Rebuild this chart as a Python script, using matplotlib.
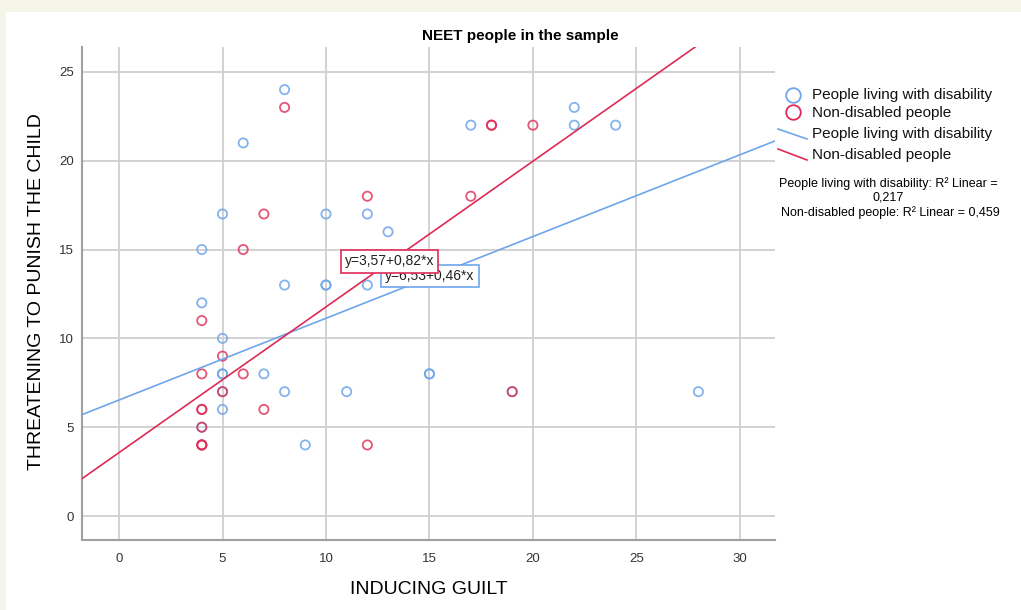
import matplotlib
matplotlib.use("Agg")
import matplotlib.pyplot as plt
import numpy as np
from matplotlib.lines import Line2D
from matplotlib.patches import Rectangle

plt.rcParams['font.family'] = ['Liberation Sans', 'DejaVu Sans']

# ---- data ----
title = "NEET people in the sample"
x_label = "INDUCING GUILT"
y_label = "THREATENING TO PUNISH THE CHILD"
series_names = ["People living with disability", "Non-disabled people"]

disab_x = [8, 6, 5, 10, 12, 13, 4, 8, 10, 10, 12, 4, 5, 5, 5, 7, 15, 15, 8, 11, 5, 5, 4, 9, 17, 22, 22, 24, 19, 28]
disab_y = [24, 21, 17, 17, 17, 16, 15, 13, 13, 13, 13, 12, 10, 8, 8, 8, 8, 8, 7, 7, 7, 6, 5, 4, 22, 23, 22, 22, 7, 7]

nondis_x = [8, 7, 12, 6, 4, 5, 4, 6, 5, 4, 4, 7, 4, 4, 4, 4, 12, 18, 18, 20, 17, 19]
nondis_y = [23, 17, 18, 15, 11, 9, 8, 8, 7, 6, 6, 6, 5, 4, 4, 4, 4, 22, 22, 22, 18, 7]

intercepts = [6.53, 3.57]
slopes = [0.46, 0.82]
eq_labels = ["y=6,53+0,46*x", "y=3,57+0,82*x"]
r2_values = ["0,217", "0,459"]

x_ticks = [0, 5, 10, 15, 20, 25, 30]
y_ticks = [0, 5, 10, 15, 20, 25]

BLUE = "#6ea6ea"
RED = "#de2b56"

fig = plt.figure(figsize=(10.21, 6.10), dpi=100)
fig.patch.set_facecolor("white")
# cream frame (top and left bands)
fig.patches.append(Rectangle((0, 1 - 12 / 610), 1, 12 / 610, transform=fig.transFigure,
                             facecolor="#f4f4e9", edgecolor="none", zorder=0))
fig.patches.append(Rectangle((0, 0), 6 / 1021, 1, transform=fig.transFigure,
                             facecolor="#f4f4e9", edgecolor="none", zorder=0))

ax = fig.add_axes([82 / 1021, 1 - 540 / 610, (775 - 82) / 1021, (540 - 47) / 610])
ax.set_facecolor("white")
xlim = (-1.79, 31.7)
ylim = (-1.35, 26.4)
ax.set_xlim(*xlim)
ax.set_ylim(*ylim)
ax.set_xticks(x_ticks)
ax.set_yticks(y_ticks)
ax.grid(True, color="#cfcfcf", linewidth=1.3)
ax.set_axisbelow(True)
for s in ["top", "right"]:
    ax.spines[s].set_visible(False)
for s in ["left", "bottom"]:
    ax.spines[s].set_color("#a0a0a0")
    ax.spines[s].set_linewidth(1.5)
ax.tick_params(length=0, labelsize=9.5, labelcolor="#333333", pad=6)
ax.tick_params(axis='x', pad=9)

# points
ax.scatter(disab_x, disab_y, s=44, facecolors="none", edgecolors=BLUE, linewidths=1.3,
           alpha=0.85, zorder=3)
ax.scatter(nondis_x, nondis_y, s=44, facecolors="none", edgecolors=RED, linewidths=1.3,
           alpha=0.8, zorder=3)

# fit lines
xx = np.array(xlim)
ax.plot(xx, intercepts[0] + slopes[0] * xx, color=BLUE, lw=1.2, zorder=4)
ax.plot(xx, intercepts[1] + slopes[1] * xx, color=RED, lw=1.2, zorder=4)

# equation boxes
ax.text(15.02, 13.5, eq_labels[0], fontsize=10, ha="center", va="center", color="#222222",
        bbox=dict(boxstyle="square,pad=0.3", facecolor="white", edgecolor=BLUE, linewidth=1.2),
        zorder=5)
ax.text(13.07, 14.33, eq_labels[1], fontsize=10, ha="center", va="center", color="#222222",
        bbox=dict(boxstyle="square,pad=0.3", facecolor="white", edgecolor=RED, linewidth=1.2),
        zorder=6)

# titles and labels
fig.text(520 / 1021, 1 - 36 / 610, title, fontsize=11, fontweight="bold", ha="center", va="center")
fig.text(429 / 1021, 1 - 589 / 610, x_label, fontsize=14, ha="center", va="center")
fig.text(37 / 1021, 1 - 292 / 610, y_label, fontsize=14, ha="center", va="center", rotation=90)

# legend (manual)
def fx(px):
    return px / 1021

def fy(py):
    return 1 - py / 610

fig.add_artist(Line2D([fx(793)], [fy(95)], marker="o", markersize=10.5, markerfacecolor="none",
                      markeredgecolor=BLUE, markeredgewidth=1.3, linestyle="none"))
fig.add_artist(Line2D([fx(793)], [fy(112)], marker="o", markersize=10.5, markerfacecolor="none",
                      markeredgecolor=RED, markeredgewidth=1.3, linestyle="none"))
fig.add_artist(Line2D([fx(778), fx(807)], [fy(129), fy(139)], color=BLUE, lw=1.2))
fig.add_artist(Line2D([fx(778), fx(807)], [fy(149), fy(160)], color=RED, lw=1.2))
leg_rows = [95, 113, 134, 155]
leg_texts = [series_names[0], series_names[1], series_names[0], series_names[1]]
for yy, tt in zip(leg_rows, leg_texts):
    fig.text(fx(812), fy(yy), tt, fontsize=11, ha="left", va="center", color="#111111")

fig.text(fx(888), fy(184), f"{series_names[0]}: R² Linear =", fontsize=9, ha="center", va="center")
fig.text(fx(888), fy(198), r2_values[0], fontsize=9, ha="center", va="center")
fig.text(fx(890), fy(213), f"{series_names[1]}: R² Linear = {r2_values[1]}", fontsize=9,
         ha="center", va="center")

fig.savefig("out.png", dpi=100)
